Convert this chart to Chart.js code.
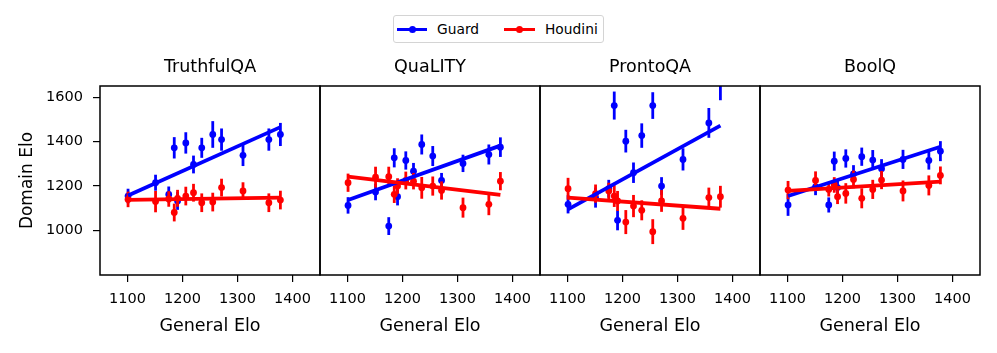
<!DOCTYPE html>
<html><head><meta charset="utf-8">
<script src="https://cdn.jsdelivr.net/npm/chart.js@4.4.1/dist/chart.umd.min.js"></script>
<style>
html,body{margin:0;padding:0;background:#fff;}
#wrap{position:relative;width:997px;height:353px;overflow:hidden;font-family:'DejaVu Sans',sans-serif;}
#wrap canvas{position:absolute;left:0;top:0;}
#legend{position:absolute;left:393px;top:15px;width:211px;height:28px;border:1px solid #d4d4d4;border-radius:3px;background:#fff;box-sizing:border-box;z-index:5;}
.lg-line{position:absolute;height:3px;top:11.5px;}
.lg-dot{position:absolute;width:7px;height:7px;border-radius:50%;top:9.5px;}
.lg-txt{position:absolute;top:3px;font-size:13.8px;line-height:20px;color:#000;white-space:nowrap;}
</style></head>
<body>
<div id="wrap">
  <div id="legend">
    <div class="lg-line" style="left:3px;width:30px;background:#0000ff"></div>
    <div class="lg-dot" style="left:14.5px;background:#0000ff"></div>
    <div class="lg-txt" style="left:43px">Guard</div>
    <div class="lg-line" style="left:110px;width:31px;background:#ff0000"></div>
    <div class="lg-dot" style="left:122px;background:#ff0000"></div>
    <div class="lg-txt" style="left:151px">Houdini</div>
  </div>
</div>
<script>
// ---------- data ----------
const generalElo = [1101, 1151, 1175, 1185, 1191, 1206, 1220, 1235, 1255, 1271, 1310, 1357, 1378];
const panelTitles = ["TruthfulQA", "QuaLITY", "ProntoQA", "BoolQ"];
const xTicks = [1100, 1200, 1300, 1400];
const yTicks = [1000, 1200, 1400, 1600];

const guardTruthfulQA      = [1155, 1215, 1162, 1372, 1133, 1394, 1297, 1372, 1432, 1409, 1338, 1409, 1432];
const guardTruthfulQAErr   = [33, 36, 36, 48, 40, 48, 40, 45, 60, 50, 48, 50, 52];
const houdiniTruthfulQA    = [1140, 1130, 1142, 1081, 1145, 1155, 1170, 1125, 1128, 1193, 1178, 1125, 1137];
const houdiniTruthfulQAErr = [35, 48, 35, 40, 38, 42, 40, 42, 42, 40, 39, 42, 42];
const guardFitTruthfulQA   = [1158, 1465];
const houdiniFitTruthfulQA = [1138, 1148];

const guardQuaLITY      = [1113, 1173, 1020, 1327, 1152, 1315, 1267, 1387, 1335, 1225, 1302, 1342, 1375];
const guardQuaLITYErr   = [37, 37, 40, 43, 39, 41, 37, 45, 45, 34, 39, 45, 44];
const houdiniQuaLITY    = [1215, 1240, 1242, 1163, 1200, 1225, 1222, 1192, 1200, 1180, 1103, 1118, 1222];
const houdiniQuaLITYErr = [41, 47, 45, 39, 35, 40, 37, 49, 43, 41, 45, 49, 41];
const guardFitQuaLITY   = [1137, 1382];
const houdiniFitQuaLITY = [1242, 1160];

const guardProntoQA      = [1118, 1148, 1188, 1562, 1046, 1402, 1260, 1427, 1562, 1200, 1320, 1484, 1680];
const guardProntoQAErr   = [41, 45, 40, 63, 45, 51, 46, 55, 60, 40, 50, 67, 94];
const houdiniProntoQA    = [1188, 1166, 1178, 1155, 1133, 1038, 1110, 1091, 995, 1133, 1055, 1148, 1152];
const houdiniProntoQAErr = [49, 41, 37, 49, 45, 54, 50, 45, 56, 49, 52, 45, 49];
const guardFitProntoQA   = [1095, 1472];
const houdiniFitProntoQA = [1148, 1098];

const guardBoolQ      = [1115, 1196, 1115, 1312, 1193, 1324, 1255, 1332, 1317, 1278, 1320, 1315, 1357];
const guardBoolQErr   = [49, 37, 34, 43, 37, 41, 39, 41, 45, 43, 43, 41, 45];
const houdiniBoolQ    = [1182, 1225, 1185, 1205, 1152, 1167, 1230, 1145, 1185, 1227, 1178, 1203, 1248];
const houdiniBoolQErr = [41, 41, 32, 35, 33, 46, 40, 45, 43, 41, 47, 45, 40];
const guardFitBoolQ   = [1155, 1377];
const houdiniFitBoolQ = [1178, 1220];

// ---------- drawing ----------
Chart.defaults.font.family = "'DejaVu Sans', sans-serif";
Chart.defaults.color = '#000';
const BLUE = '#0000ff', RED = '#ff0000';
const W = 997, H = 353, PANEL_LEFT = 100, PANEL_W = 220;

const errorBarPlugin = {
  id: 'errorBars',
  beforeDatasetDraw(chart, args) {
    const ds = chart.data.datasets[args.index];
    if (!ds.errors) return;
    const ys = chart.scales.y, ctx = chart.ctx, a = chart.chartArea;
    ctx.save();
    ctx.beginPath(); ctx.rect(a.left, a.top, a.right - a.left, a.bottom - a.top); ctx.clip();
    ctx.strokeStyle = ds.borderColor; ctx.lineWidth = 2.8; ctx.lineCap = 'butt';
    args.meta.data.forEach((pt, i) => {
      const v = ds.data[i].y, e = ds.errors[i];
      ctx.beginPath();
      ctx.moveTo(pt.x, ys.getPixelForValue(v - e));
      ctx.lineTo(pt.x, ys.getPixelForValue(v + e));
      ctx.stroke();
    });
    ctx.restore();
  }
};
const boxPlugin = {
  id: 'box',
  afterDatasetsDraw(chart) {
    const a = chart.chartArea, ctx = chart.ctx;
    ctx.save(); ctx.strokeStyle = '#000'; ctx.lineWidth = 1.5;
    ctx.strokeRect(a.left, a.top, a.right - a.left, a.bottom - a.top);
    ctx.restore();
  }
};

function makePanel(idx, title, guard, guardErr, guardFit, houdini, houdiniErr, houdiniFit) {
  const canvas = document.createElement('canvas');
  canvas.width = W; canvas.height = H;
  canvas.style.width = W + 'px'; canvas.style.height = H + 'px';
  document.getElementById('wrap').appendChild(canvas);
  const left = PANEL_LEFT + idx * PANEL_W;
  const xMin = Math.min(...generalElo), xMax = Math.max(...generalElo);
  const pts = arr => generalElo.map((x, i) => ({x, y: arr[i]}));
  new Chart(canvas, {
    type: 'scatter',
    data: { datasets: [
      { label: 'Guard', data: pts(guard), errors: guardErr, borderColor: BLUE, backgroundColor: BLUE,
        pointRadius: 3.4, pointBorderWidth: 0, order: 4 },
      { label: 'Houdini', data: pts(houdini), errors: houdiniErr, borderColor: RED, backgroundColor: RED,
        pointRadius: 3.4, pointBorderWidth: 0, order: 3 },
      { label: 'Guard fit', data: [{x: xMin, y: guardFit[0]}, {x: xMax, y: guardFit[1]}], type: 'line',
        borderColor: BLUE, backgroundColor: BLUE, borderWidth: 3.8, pointRadius: 0, showLine: true, order: 2 },
      { label: 'Houdini fit', data: [{x: xMin, y: houdiniFit[0]}, {x: xMax, y: houdiniFit[1]}], type: 'line',
        borderColor: RED, backgroundColor: RED, borderWidth: 3.8, pointRadius: 0, showLine: true, order: 1 }
    ]},
    options: {
      responsive: false, animation: false, devicePixelRatio: 1,
      layout: { padding: { left: idx === 0 ? 0 : left, right: W - (left + PANEL_W), top: 0, bottom: 0 } },
      plugins: {
        legend: { display: false }, tooltip: { enabled: false },
        title: { display: true, text: title, fullSize: false, color: '#000',
                 font: { size: 17.5, weight: 'normal' }, padding: { top: 57, bottom: 8 } }
      },
      scales: {
        x: {
          type: 'linear', min: 1050, max: 1450,
          afterBuildTicks: s => { s.ticks = xTicks.map(v => ({value: v})); },
          afterFit: s => { s.height = 78; },
          ticks: { font: { size: 14.5 }, color: '#000', padding: 9, maxRotation: 0, callback: v => String(v) },
          grid: { display: true, drawOnChartArea: false, drawTicks: true, tickLength: 7, color: '#000', lineWidth: 1.2 },
          border: { display: false },
          title: { display: true, text: 'General Elo', font: { size: 17.5 }, color: '#000', padding: { top: 0, bottom: 16 } }
        },
        y: {
          type: 'linear', min: 800, max: 1650, display: idx === 0,
          afterBuildTicks: s => { s.ticks = yTicks.map(v => ({value: v})); },
          afterFit: s => { if (idx === 0) s.width = PANEL_LEFT; },
          ticks: { font: { size: 14.5 }, color: '#000', padding: 10, callback: v => String(v) },
          grid: { display: true, drawOnChartArea: false, drawTicks: true, tickLength: 7, color: '#000', lineWidth: 1.2 },
          border: { display: false },
          title: { display: true, text: 'Domain Elo', font: { size: 17 }, color: '#000', padding: { top: 17, bottom: 0 } }
        }
      }
    },
    plugins: [errorBarPlugin, boxPlugin]
  });
}

makePanel(0, panelTitles[0], guardTruthfulQA, guardTruthfulQAErr, guardFitTruthfulQA, houdiniTruthfulQA, houdiniTruthfulQAErr, houdiniFitTruthfulQA);
makePanel(1, panelTitles[1], guardQuaLITY, guardQuaLITYErr, guardFitQuaLITY, houdiniQuaLITY, houdiniQuaLITYErr, houdiniFitQuaLITY);
makePanel(2, panelTitles[2], guardProntoQA, guardProntoQAErr, guardFitProntoQA, houdiniProntoQA, houdiniProntoQAErr, houdiniFitProntoQA);
makePanel(3, panelTitles[3], guardBoolQ, guardBoolQErr, guardFitBoolQ, houdiniBoolQ, houdiniBoolQErr, houdiniFitBoolQ);
</script>
</body></html>
